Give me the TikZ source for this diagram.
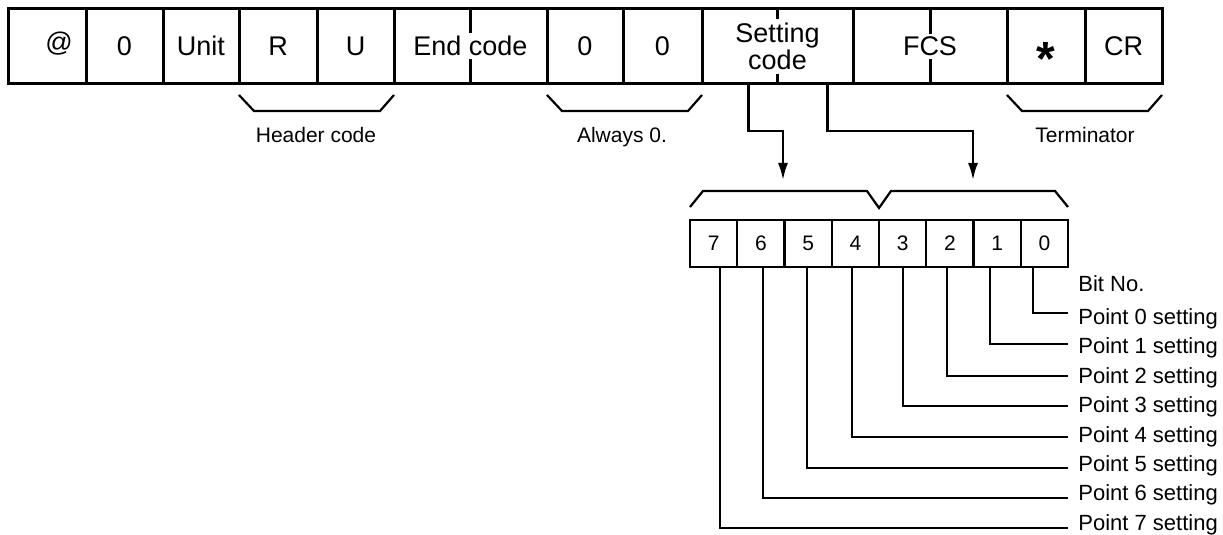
\documentclass[tikz,border=0pt]{standalone}
\usepackage{fontspec}
\setmainfont{Liberation Sans}
\usetikzlibrary{arrows.meta,calc}
\begin{document}
\begin{tikzpicture}[x=0.5pt,y=-0.5pt,
  cell/.style={draw,line width=1.5pt,minimum height=37.75pt,inner sep=0pt,outer sep=0pt,anchor=north west,font=\fontsize{13.5}{12}\selectfont},
  ctext/.style={fill=white,inner sep=1.5pt,font=\fontsize{13.5}{12}\selectfont,align=center},
  bitbox/.style={draw,line width=1.2pt,minimum width=23.625pt,minimum height=23.5pt,inner sep=0pt,outer sep=0pt,anchor=north west,font=\fontsize{10.5}{12}\selectfont},
  brc/.style={line width=1.1pt,line join=miter},
  conn/.style={line width=1.1pt},
  blab/.style={anchor=base,inner sep=0pt,font=\fontsize{10.5}{12}\selectfont},
  plab/.style={anchor=base west,inner sep=0pt,font=\fontsize{11}{12}\selectfont},
  arr/.style={conn,-{Latex[length=8.5pt,width=5pt]}}]
\useasboundingbox (0,0) rectangle (1223,535);

% top frame
\node[cell,minimum width=38.75pt] (at) at (8.5,8.5) {};
\node[cell,minimum width=38.5pt] (z1) at (86,8.5) {0};
\node[cell,minimum width=38pt] (unit) at (163,8.5) {Unit};
\node[cell,minimum width=39pt] (r) at (239,8.5) {R};
\node[cell,minimum width=38.5pt] (u) at (317,8.5) {U};
\node[cell,minimum width=76.5pt] (ec) at (394,8.5) {};
\node[cell,minimum width=38pt] (z2) at (547,8.5) {0};
\node[cell,minimum width=39.5pt] (z3) at (623,8.5) {0};
\node[cell,minimum width=75.5pt] (sc) at (702,8.5) {};
\node[cell,minimum width=77pt] (fcs) at (853,8.5) {};
\node[cell,minimum width=39pt] (ast) at (1007,8.5) {};
\node[cell,minimum width=38.5pt] (cr) at (1085,8.5) {CR};

\node[inner sep=0pt,font=\fontsize{13.5}{12}\selectfont] (att) at (59,44) {@};

\draw[line width=1.5pt] (ec.north) -- (ec.south);
\draw[line width=1.5pt] (sc.north) -- (sc.south);
\draw[line width=1.5pt] (fcs.north) -- (fcs.south);
\node[ctext] (ect) at (ec.center) {End code};
\node[ctext,inner sep=2pt] (sct) at (sc.center) {Setting\\code};
\node[ctext,inner sep=1.5pt] (fcst) at (fcs.center) {FCS};
\node[anchor=base,inner sep=0pt,font=\fontsize{24}{24}\selectfont\bfseries] (astt) at (1046,76) {*};

% braces under top frame
\draw[brc] ($(r.south west)+(0,11)$) -- ++(15,16) -- ($(u.south east)+(-14,27)$) -- ($(u.south east)+(0,11)$);
\draw[brc] ($(z2.south west)+(0,11)$) -- ++(15,16) -- ($(z3.south east)+(-14,27)$) -- ($(z3.south east)+(0,11)$);
\draw[brc] ($(ast.south west)+(0,11)$) -- ++(15,16) -- ($(cr.south east)+(-14,27)$) -- ($(cr.south east)+(0,11)$);
\node[blab] (hc) at (316,143) {Header code};
\node[blab] (a0) at (622,143) {Always 0.};
\node[blab] (term) at (1085,143) {Terminator};

% bit boxes
\node[bitbox] (b7) at (690,220) {7};
\node[bitbox] (b6) at (737.25,220) {6};
\node[bitbox] (b5) at (784.5,220) {5};
\node[bitbox] (b4) at (831.75,220) {4};
\node[bitbox] (b3) at (879,220) {3};
\node[bitbox] (b2) at (926.25,220) {2};
\node[bitbox] (b1) at (973.5,220) {1};
\node[bitbox] (b0) at (1020.75,220) {0};

% brace over bits
\draw[brc] ($(b7.north west)+(0,-13)$) -- ++(13,-16) -- ($(b3.north west)+(-12,-29)$) -- ($(b3.north west)+(0,-12)$) -- ++(12,-17) -- ($(b0.north east)+(-13,-29)$) -- ($(b0.north east)+(0,-13)$);

% arrows from setting code
\coordinate (t1) at (783,180);
\coordinate (t2) at (973,180);
\draw[arr] ($(sc.south)+(-29,0)$) -- ++(0,47) -| (t1);
\draw[arr] ($(sc.south)+(50,0)$) -- ++(0,47) -| (t2);

% labels
\node[plab] (bn) at (1078,292) {Bit No.};
\node[plab] (p0) at (1078,324) {Point 0 setting};
\node[plab] (p1) at (1078,353.5) {Point 1 setting};
\node[plab] (p2) at (1078,383) {Point 2 setting};
\node[plab] (p3) at (1078,412.5) {Point 3 setting};
\node[plab] (p4) at (1078,442) {Point 4 setting};
\node[plab] (p5) at (1078,471.5) {Point 5 setting};
\node[plab] (p6) at (1078,501) {Point 6 setting};
\node[plab] (p7) at (1078,530) {Point 7 setting};

% line ends
\coordinate (e0) at (1068,313);
\coordinate (e1) at (1068,344);
\coordinate (e2) at (1068,376);
\coordinate (e3) at (1068,406);
\coordinate (e4) at (1068,437);
\coordinate (e5) at (1068,468);
\coordinate (e6) at (1068,498);
\coordinate (e7) at (1068,528);

\draw[conn] ([xshift=-5.7pt]b0.south) |- (e0);
\draw[conn] ([xshift=-3.55pt]b1.south) |- (e1);
\draw[conn] ([xshift=-1.45pt]b2.south) |- (e2);
\draw[conn] ([xshift=0.2pt]b3.south) |- (e3);
\draw[conn] ([xshift=-1.7pt]b4.south) |- (e4);
\draw[conn] ([xshift=-0.55pt]b5.south) |- (e5);
\draw[conn] ([xshift=1.05pt]b6.south) |- (e6);
\draw[conn] ([xshift=3.2pt]b7.south) |- (e7);
\end{tikzpicture}
\end{document}
